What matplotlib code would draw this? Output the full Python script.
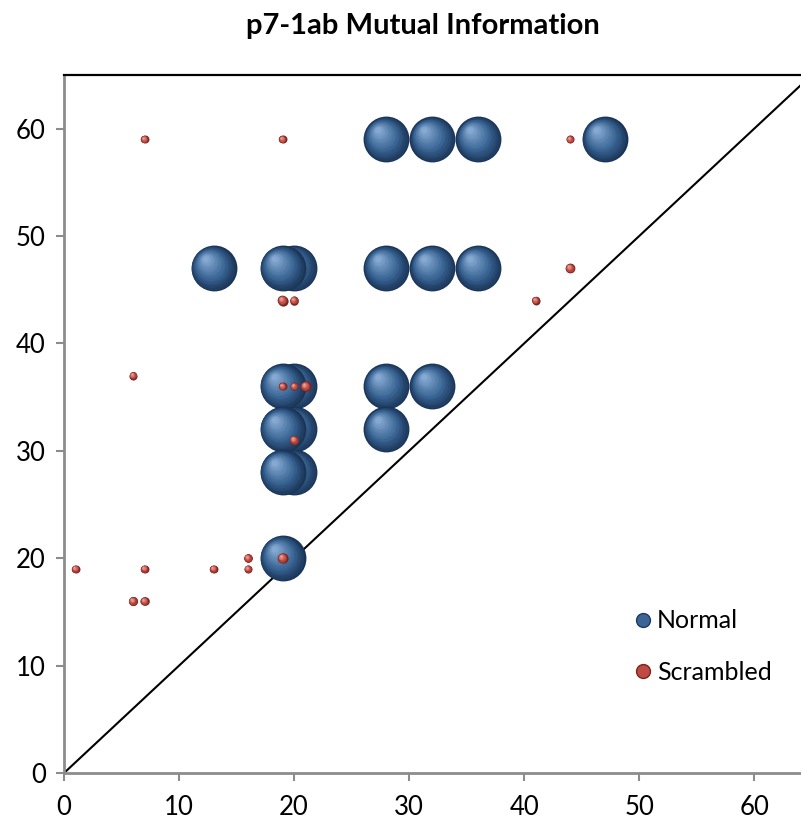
import numpy as np
import matplotlib
matplotlib.use("Agg")
import matplotlib.pyplot as plt
from matplotlib.transforms import ScaledTranslation
from matplotlib.lines import Line2D
from matplotlib.colors import to_rgb

plt.rcParams['font.family'] = ['Lato', 'DejaVu Sans']

# Normal series
normal_x = [28, 32, 36, 47, 13, 20, 19, 28, 32, 36, 20, 19, 28, 32, 20, 19, 28, 20, 19, 19]
normal_y = [59, 59, 59, 59, 47, 47, 47, 47, 47, 47, 36, 36, 36, 36, 32, 32, 32, 28, 28, 20]
normal_size = [1.0] * len(normal_x)

# Scrambled series
scr_x = [7, 19, 44, 19, 20, 41, 44, 6, 19, 20, 21, 20, 1, 7, 13, 16, 16, 19, 6, 7]
scr_y = [59, 59, 59, 44, 44, 44, 47, 37, 36, 36, 36, 31, 19, 19, 19, 19, 20, 20, 16, 16]
scr_size = [0.03, 0.03, 0.03, 0.05, 0.035, 0.03, 0.045, 0.03, 0.03, 0.03, 0.05, 0.04,
            0.03, 0.03, 0.03, 0.03, 0.035, 0.05, 0.04, 0.035]

x_ticks = [0, 10, 20, 30, 40, 50, 60]
y_ticks = [0, 10, 20, 30, 40, 50, 60]

SCALE = 1090  # points^2 for size 1.0

fig = plt.figure(figsize=(8.01, 8.23), dpi=100)
ax = fig.add_axes([0.0799, 0.0607, 0.9191, 0.8482])
ax.set_xlim(0, 64)
ax.set_ylim(0, 65)

# reference diagonal y = x
ax.plot([0, 65], [0, 65], color='black', lw=1.5, zorder=2)


def mix(c1, c2, t):
    a, b = np.array(to_rgb(c1)), np.array(to_rgb(c2))
    return tuple(a + (b - a) * t)


def sphere(x, y, size, edge, body, light, z):
    """Shaded ball made of stacked discs shifted toward the highlight."""
    s = size * SCALE
    d = np.sqrt(s) / 72.0  # diameter in inches
    n = 16
    ax.scatter([x], [y], s=s, color=edge, lw=0, zorder=z)
    for k in range(1, n + 1):
        t = k / n
        r = 1 - 0.88 * t
        off = (1 - r) * d * 0.5
        tr = ax.transData + ScaledTranslation(-0.42 * off, 0.48 * off, fig.dpi_scale_trans)
        if t < 0.35:
            c = mix(edge, body, t / 0.35)
        else:
            c = mix(body, light, (t - 0.35) / 0.65)
        ax.scatter([x], [y], s=s * r * r, color=c, lw=0, zorder=z, transform=tr)


order = np.argsort(-np.array(normal_x), kind='stable')
for i in order:
    sphere(normal_x[i], normal_y[i], normal_size[i], '#1b3558', '#35608f', '#85a9d2', 3)

for i in range(len(scr_x)):
    sphere(scr_x[i], scr_y[i], scr_size[i], '#7a2420', '#b8453e', '#f0a59c', 4)

ax.set_xticks(x_ticks)
ax.set_yticks(y_ticks)
ax.tick_params(axis='both', direction='out', length=6, width=1.5, color='#8c8c8c',
               labelsize=18.5, pad=7)
ax.tick_params(axis='x', pad=10)
for side in ('left', 'bottom'):
    ax.spines[side].set_color('#8c8c8c')
    ax.spines[side].set_linewidth(2)
ax.spines['right'].set_visible(False)
ax.spines['top'].set_color('black')
ax.spines['top'].set_linewidth(1.6)

handles = [
    Line2D([], [], marker='o', ls='none', markersize=10, markerfacecolor='#3a6594',
           markeredgecolor='#1f3a5f', markeredgewidth=1),
    Line2D([], [], marker='o', ls='none', markersize=10, markerfacecolor='#bf4a43',
           markeredgecolor='#7a2420', markeredgewidth=1),
]
fig.legend(handles, ['Normal', 'Scrambled'], loc='upper left',
           bbox_to_anchor=(622 / 801, 1 - 597 / 823), frameon=False, fontsize=18,
           handlelength=0.7, handletextpad=0.2, labelspacing=1.12, borderpad=0)

fig.text(0.528, 0.969, 'p7-1ab Mutual Information', ha='center', va='center',
         fontsize=21, fontweight='bold')

fig.savefig('out.png', dpi=100)
